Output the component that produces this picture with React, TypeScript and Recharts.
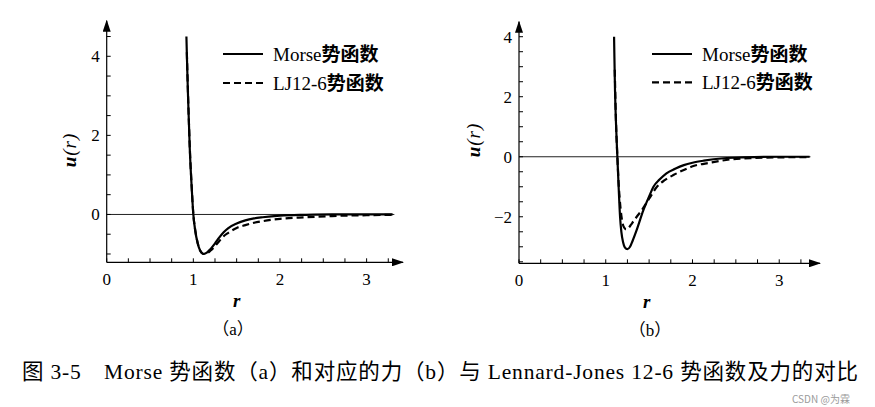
import React from 'react';
import { LineChart, Line, XAxis, YAxis, ReferenceLine, Legend } from 'recharts';

// legend names
const seriesNames = ['Morse势函数', 'LJ12-6势函数'];

// (a) values
const rMorseA = [0.92, 0.93, 0.94, 0.96, 0.98, 1.0, 1.02, 1.05, 1.08, 1.12, 1.16, 1.2, 1.25, 1.3, 1.35, 1.4, 1.5, 1.6, 1.7, 1.8, 2.0, 2.3, 2.6, 3.0, 3.3];
const uMorseA = [4.5, 3.65, 2.9, 1.6, 0.72, 0, -0.38, -0.73, -0.92, -1.0, -0.96, -0.87, -0.73, -0.58, -0.45, -0.35, -0.23, -0.15, -0.1, -0.07, -0.03, -0.01, 0, 0, 0];
const rLjA = [0.925, 0.94, 0.96, 0.98, 1.0, 1.02, 1.05, 1.08, 1.12, 1.16, 1.2, 1.25, 1.3, 1.35, 1.4, 1.5, 1.6, 1.7, 1.8, 2.0, 2.3, 2.6, 3.0, 3.3];
const uLjA = [4.1, 2.95, 1.65, 0.75, 0, -0.37, -0.72, -0.92, -1.0, -0.98, -0.91, -0.8, -0.67, -0.55, -0.47, -0.34, -0.27, -0.21, -0.17, -0.11, -0.07, -0.04, -0.02, -0.01];

// (b)
const rMorseB = [1.096, 1.1, 1.107, 1.119, 1.134, 1.15, 1.165, 1.18, 1.2, 1.22, 1.25, 1.28, 1.31, 1.357, 1.434, 1.5, 1.55, 1.62, 1.7, 1.8, 1.9, 2.0, 2.13, 2.36, 2.6, 3.0, 3.35];
const uMorseB = [4.0, 3.3, 2.2, 1.05, 0, -1.1, -2.0, -2.5, -2.85, -3.02, -3.08, -3.0, -2.8, -2.44, -1.78, -1.32, -1.0, -0.76, -0.55, -0.4, -0.28, -0.2, -0.13, -0.05, -0.02, 0, 0];
const rLjB = [1.104, 1.12, 1.134, 1.15, 1.17, 1.19, 1.21, 1.235, 1.26, 1.29, 1.319, 1.37, 1.415, 1.5, 1.59, 1.68, 1.78, 1.9, 2.01, 2.2, 2.43, 2.7, 3.0, 3.35];
const uLjB = [2.9, 1.0, 0, -0.95, -1.7, -2.15, -2.35, -2.42, -2.38, -2.27, -2.15, -1.95, -1.78, -1.4, -1.0, -0.78, -0.61, -0.44, -0.31, -0.2, -0.09, -0.04, -0.02, -0.01];

// ticks (labels only on the integer / even ones)
const xTicks = [0, 0.25, 0.5, 0.75, 1, 1.25, 1.5, 1.75, 2, 2.25, 2.5, 2.75, 3, 3.25];
const yTicksA = [-1, -0.5, 0, 0.5, 1, 1.5, 2, 2.5, 3, 3.5, 4, 4.5];
const yTicksB = [-3.5, -3, -2.5, -2, -1.5, -1, -0.5, 0, 0.5, 1, 1.5, 2, 2.5, 3, 3.5, 4];

const caption = '图 3-5　Morse 势函数（a）和对应的力（b）与 Lennard-Jones 12-6 势函数及力的对比';

const FONT = "Liberation Serif, Noto Sans CJK SC, serif";

const toPoints = (rs: number[], us: number[]) => rs.map((r, i) => ({ r, u: us[i] }));

const fmtX = (v: number) => (Number.isInteger(v) ? String(v) : '');
const fmtY = (v: number) => {
  if (!Number.isInteger(v) || v % 2 !== 0) return '';
  return v < 0 ? '\u2212' + Math.abs(v) : String(v);
};

const LegendBox = ({ gap }: { gap: number }) => (
  <svg width={190} height={50} style={{ display: 'block', overflow: 'visible' }}>
    {seriesNames.map((name, i) => {
      const y = 14 + i * gap;
      const m = name.match(/^([\x00-\x7f]*)(.*)$/) || ['', name, ''];
      return (
        <g key={name}>
          <line x1={5} x2={45} y1={y} y2={y} stroke="#000" strokeWidth={2.2} strokeDasharray={i ? '7 4' : undefined} />
          <text x={55} y={y + 6.5} fontSize={19} fontFamily={FONT} fill="#000">
            <tspan>{m[1]}</tspan>
            <tspan fontWeight="bold">{m[2]}</tspan>
          </text>
        </g>
      );
    })}
  </svg>
);

type PanelProps = {
  width: number;
  margin: { top: number; right: number; bottom: number; left: number };
  yDomain: [number, number];
  xMax: number;
  yTicks: number[];
  morse: { r: number; u: number }[];
  lj: { r: number; u: number }[];
  lineEnd: number;
  legendPos: { left: number; top: number };
  legendGap: number;
};

const tickStyle = { fontSize: 17, fill: '#000', fontFamily: FONT };

const Panel = ({ width, margin, yDomain, xMax, yTicks, morse, lj, lineEnd, legendPos, legendGap }: PanelProps) => (
  <LineChart width={width} height={300} margin={margin}>
    <XAxis
      type="number"
      dataKey="r"
      domain={[0, xMax]}
      allowDataOverflow
      ticks={xTicks}
      interval={0}
      tickFormatter={fmtX}
      tickSize={-4}
      tickMargin={15}
      height={30}
      axisLine={{ stroke: '#000', strokeWidth: 1.2, markerEnd: 'url(#axisArrow)' } as any}
      tickLine={{ stroke: '#000', strokeWidth: 1 }}
      tick={tickStyle}
    />
    <YAxis
      type="number"
      domain={yDomain}
      allowDataOverflow
      ticks={yTicks}
      interval={0}
      tickFormatter={fmtY}
      tickSize={-4}
      tickMargin={11}
      width={50}
      axisLine={{ stroke: '#000', strokeWidth: 1.2, markerStart: 'url(#axisArrow)' } as any}
      tickLine={{ stroke: '#000', strokeWidth: 1 }}
      tick={tickStyle}
    />
    <ReferenceLine
      segment={[{ x: 0, y: 0 }, { x: lineEnd, y: 0 }]}
      stroke="#222"
      strokeWidth={1}
    />
    <Line
      data={morse}
      dataKey="u"
      name={seriesNames[0]}
      type="monotone"
      stroke="#000"
      strokeWidth={2.2}
      dot={false}
      activeDot={false}
      isAnimationActive={false}
    />
    <Line
      data={lj}
      dataKey="u"
      name={seriesNames[1]}
      type="monotone"
      stroke="#000"
      strokeWidth={2.2}
      strokeDasharray="7 4"
      dot={false}
      activeDot={false}
      isAnimationActive={false}
    />
    <Legend
      layout="vertical"
      align="center"
      verticalAlign="middle"
      wrapperStyle={{ left: legendPos.left, top: legendPos.top, width: 190, height: 50 }}
      content={() => <LegendBox gap={legendGap} />}
    />
  </LineChart>
);

export default function App() {
  return (
    <div style={{ position: 'absolute', left: 0, top: 0, width: 875, height: 407, background: '#fff', overflow: 'hidden' }}>
      <svg width={0} height={0} style={{ position: 'absolute' }}>
        <defs>
          <marker
            id="axisArrow"
            viewBox="0 0 12 8"
            refX={11}
            refY={4}
            markerWidth={12}
            markerHeight={8}
            markerUnits="userSpaceOnUse"
            orient="auto-start-reverse"
          >
            <path d="M0,0 L12,4 L0,8 z" fill="#000" />
          </marker>
        </defs>
      </svg>

      <div style={{ position: 'absolute', left: 0, top: 0 }}>
        <Panel
          width={440}
          margin={{ top: 20.7, right: 37, bottom: 7.7, left: 56.7 }}
          yDomain={[-1.21, 4.9]}
          xMax={3.42}
          yTicks={yTicksA}
          morse={toPoints(rMorseA, uMorseA)}
          lj={toPoints(rLjA, uLjA)}
          lineEnd={3.32}
          legendPos={{ left: 218, top: 40 }}
          legendGap={29}
        />
      </div>

      <div style={{ position: 'absolute', left: 440, top: 0 }}>
        <Panel
          width={435}
          margin={{ top: 21.7, right: 55, bottom: 6.7, left: 29 }}
          yDomain={[-3.55, 4.5]}
          xMax={3.47}
          yTicks={yTicksB}
          morse={toPoints(rMorseB, uMorseB)}
          lj={toPoints(rLjB, uLjB)}
          lineEnd={3.36}
          legendPos={{ left: 206.7, top: 40 }}
          legendGap={28.4}
        />
      </div>

      <svg width={875} height={407} style={{ position: 'absolute', left: 0, top: 0, pointerEvents: 'none' }}>
        <g fontFamily={FONT} fill="#000">
          <text x={69} y={150} transform="rotate(-90 69 150)" textAnchor="middle" dominantBaseline="central" fontSize={19} fontStyle="italic" letterSpacing={1}>
            <tspan fontWeight="bold">u</tspan>(r)
          </text>
          <text x={473} y={140} transform="rotate(-90 473 140)" textAnchor="middle" dominantBaseline="central" fontSize={19} fontStyle="italic" letterSpacing={1}>
            <tspan fontWeight="bold">u</tspan>(r)
          </text>
          <text x={236.7} y={300} textAnchor="middle" dominantBaseline="central" fontSize={19} fontStyle="italic" fontWeight="bold">r</text>
          <text x={646.7} y={301.7} textAnchor="middle" dominantBaseline="central" fontSize={19} fontStyle="italic" fontWeight="bold">r</text>
          <text x={233} y={329} textAnchor="middle" dominantBaseline="central" fontSize={17}>（a）</text>
          <text x={650} y={330} textAnchor="middle" dominantBaseline="central" fontSize={17}>（b）</text>
          <text x={22} y={379} fontSize={21.5} textLength={836} lengthAdjust="spacing">{caption}</text>
        </g>
        <text x={792} y={403} fontSize={10} fill="#9a9a9a" fontFamily="Noto Sans CJK SC, sans-serif">CSDN @为霖</text>
      </svg>
    </div>
  );
}
